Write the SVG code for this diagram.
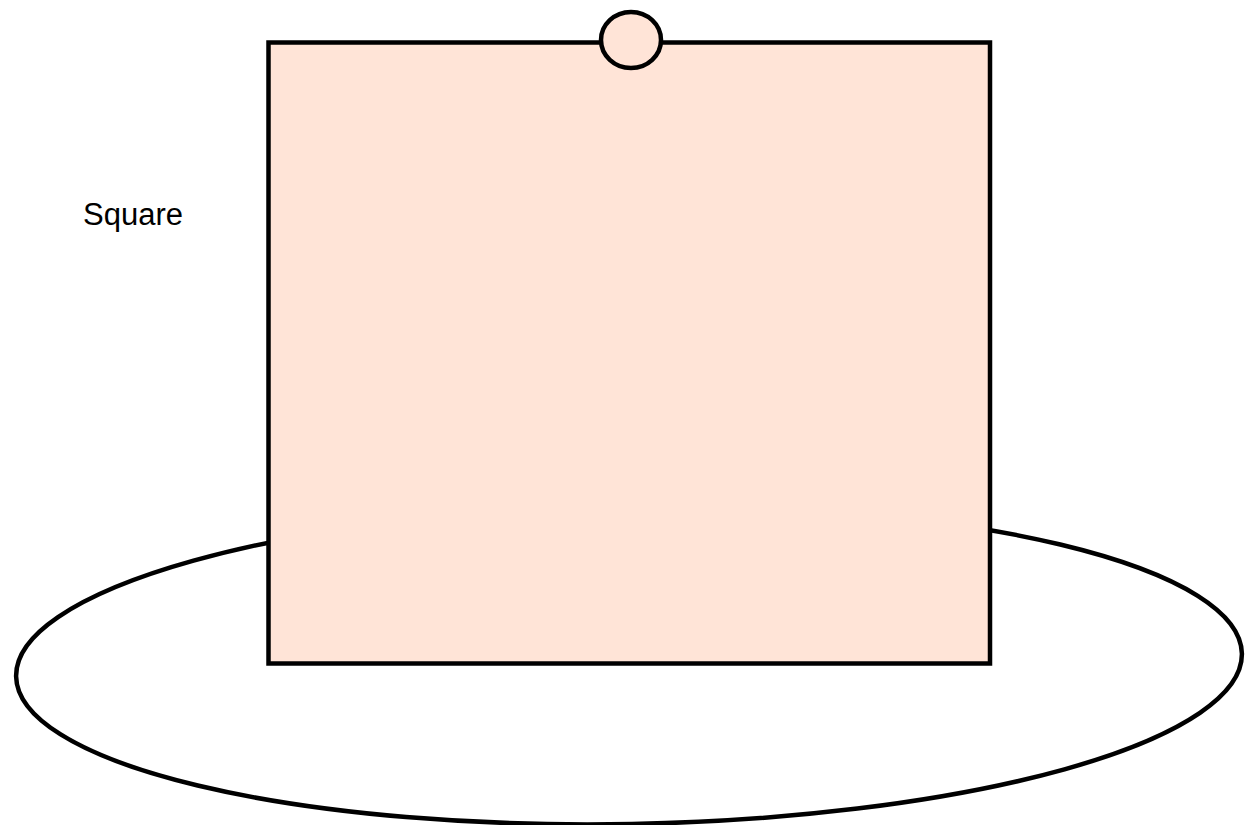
<svg xmlns="http://www.w3.org/2000/svg" width="1246" height="825" viewBox="0 0 1246 825">
<style>
.ln{stroke:#000;stroke-width:4.5;}
.fill{fill:#FFE4D7;}
.lbl{font-family:"Liberation Sans",Arial,sans-serif;font-size:31px;fill:#000;}
</style>
<rect width="1246" height="825" fill="#fff"/>
<g id="ellipse">
<ellipse class="ln" fill="none" cx="629" cy="665" rx="613" ry="159" transform="rotate(-1.07 629 665)"/>
</g>
<g id="square">
<rect class="ln fill" x="268.5" y="42.5" width="721.5" height="621"/>
</g>
<g id="circle">
<ellipse class="ln fill" cx="631" cy="40" rx="30" ry="28"/>
</g>
<g id="label">
<text class="lbl" x="83" y="225">Square</text>
</g>
</svg>
